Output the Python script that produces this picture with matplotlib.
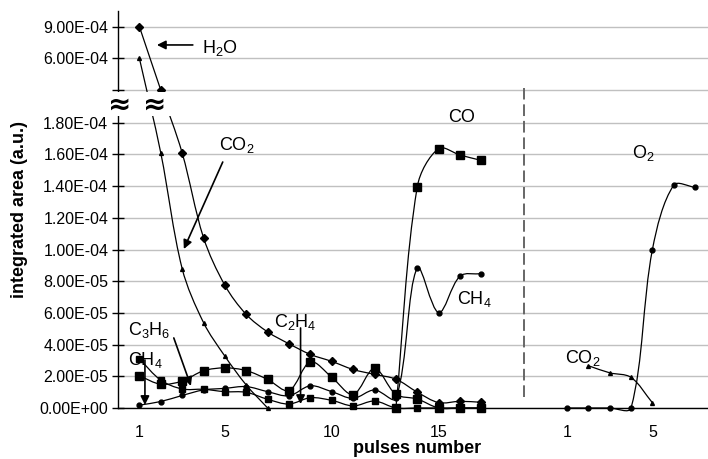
import numpy as np
import matplotlib
matplotlib.use('Agg')
import matplotlib.pyplot as plt
from matplotlib.path import Path
from matplotlib.patches import PathPatch, Rectangle

plt.rcParams['font.family'] = ['Liberation Sans', 'DejaVu Sans']
plt.rcParams['mathtext.fontset'] = 'custom'
plt.rcParams['mathtext.rm'] = 'Liberation Sans'
plt.rcParams['mathtext.it'] = 'Liberation Sans:italic'
plt.rcParams['mathtext.bf'] = 'Liberation Sans:bold'

# ---- data ----
pulses = [1, 2, 3, 4, 5, 6, 7, 8, 9, 10, 11, 12, 13, 14, 15, 16, 17]
h2o = [9.0e-4, 3.0e-4, 1.61e-4, 1.075e-4, 7.74e-5, 5.9e-5, 4.8e-5, 4.05e-5, 3.38e-5,
       2.94e-5, 2.43e-5, 2.12e-5, 1.82e-5, 1.0e-5, 3.4e-6, 4.2e-6, 3.6e-6]
co2_pulses = [1, 2, 3, 4, 5, 6, 7]
co2 = [6.0e-4, 1.61e-4, 8.8e-5, 5.39e-5, 3.27e-5, 1.45e-5, 0.0]
c3h6 = [2.03e-5, 1.5e-5, 1.7e-5, 2.35e-5, 2.53e-5, 2.36e-5, 1.8e-5, 1.1e-5, 2.91e-5,
        1.94e-5, 8.5e-6, 2.5e-5, 8.6e-6, 5.7e-6, 0.0, 0.0, 0.0]
c2h4 = [3.1e-5, 1.76e-5, 1.2e-5, 1.18e-5, 1.03e-5, 9.9e-6, 5.5e-6, 2.5e-6, 6.5e-6,
        4.8e-6, 1.3e-6, 4.4e-6, 0.0, 0.0, 0.0, 0.0, 0.0]
ch4 = [1.8e-6, 4.1e-6, 7.9e-6, 1.14e-5, 1.24e-5, 1.35e-5, 1.03e-5, 7.7e-6, 1.4e-5,
       1.03e-5, 6.1e-6, 1.14e-5, 6.0e-6, 8.85e-5, 6.02e-5, 8.32e-5, 8.47e-5]
co_pulses = [13, 14, 15, 16, 17]
co = [0.0, 1.396e-4, 1.637e-4, 1.596e-4, 1.562e-4]

# second experiment (right of the dashed line)
o2_pulses = [1, 2, 3, 4, 5, 6, 7]
o2 = [0.0, 0.0, 0.0, 0.0, 1.0e-4, 1.406e-4, 1.392e-4]
co2b_pulses = [2, 3, 4, 5]
co2b = [2.67e-5, 2.22e-5, 1.93e-5, 3.3e-6]

xtick_left = [1, 5, 10, 15]
xtick_right = [1, 5]
ytick_vals = [0, 2e-5, 4e-5, 6e-5, 8e-5, 1e-4, 1.2e-4, 1.4e-4, 1.6e-4, 1.8e-4, 3e-4, 6e-4, 9e-4]

OFFSET = 20      # right block starts after the gap
SEPARATOR = 19
XMAX = 27.6
PX_PER_X = 590 / XMAX

# ---- broken y axis as a piecewise linear scale ----
VB = [0.0, 1.8e-4, 3.0e-4, 1.05e-3]
PB = [0.0, 285.3, 318.0, 397.3]


def _pw(v, xs, ys):
    v = np.asarray(v, dtype=float)
    out = np.interp(v, xs, ys)
    out = np.where(v < xs[0], ys[0] + (v - xs[0]) * (ys[1] - ys[0]) / (xs[1] - xs[0]), out)
    out = np.where(v > xs[-1], ys[-1] + (v - xs[-1]) * (ys[-1] - ys[-2]) / (xs[-1] - xs[-2]), out)
    return out


def fwd(v):
    return _pw(v, VB, PB)


def inv(p):
    return _pw(p, PB, VB)


def smooth_path(xs, ys):
    # excel-like smoothed line: bezier with tangents weighted by segment length,
    # worked out in pixel-like space so the dips stay small
    P = np.column_stack([np.asarray(xs, float) * PX_PER_X, fwd(ys)])
    n = len(P)
    before = P.copy()
    after = P.copy()
    for i in range(n):
        a = P[max(i - 1, 0)]
        b = P[min(i + 1, n - 1)]
        d0 = np.hypot(*(P[i] - a))
        d1 = np.hypot(*(b - P[i]))
        if d0 + d1 == 0:
            continue
        T = b - a
        before[i] = P[i] - T * d0 / (d0 + d1) / 3.0
        after[i] = P[i] + T * d1 / (d0 + d1) / 3.0
    verts = [P[0]]
    codes = [Path.MOVETO]
    for i in range(n - 1):
        verts += [after[i], before[i + 1], P[i + 1]]
        codes += [Path.CURVE4] * 3
    verts = np.array(verts)
    verts[:, 0] = verts[:, 0] / PX_PER_X
    verts[:, 1] = inv(verts[:, 1])
    return Path(verts, codes)


fig = plt.figure(figsize=(7.08, 4.59), dpi=100)
ax = fig.add_axes([118 / 708, 51 / 459, 590 / 708, 397.3 / 459])
ax.set_yscale('function', functions=(fwd, inv))


def draw_series(x, y, marker, ms):
    ax.add_patch(PathPatch(smooth_path(x, y), facecolor='none', edgecolor='black',
                           lw=0.9, zorder=3, clip_on=False))
    ax.plot(x, y, ls='none', marker=marker, ms=ms, color='black', zorder=4, clip_on=False)


draw_series(pulses, h2o, 'D', 3.8)
draw_series(co2_pulses, co2, '^', 2.8)
draw_series(pulses, c3h6, 's', 6.2)
draw_series(pulses, c2h4, 's', 4.0)
draw_series(pulses, ch4, 'o', 3.5)
draw_series(co_pulses, co, 's', 6.2)
draw_series([p + OFFSET for p in o2_pulses], o2, 'o', 3.5)
draw_series([p + OFFSET for p in co2b_pulses], co2b, '^', 2.8)

ax.set_xlim(0, XMAX)
ax.set_ylim(0, 1.05e-3)

ax.set_yticks(ytick_vals)
ax.set_yticklabels(['' if v == 3e-4 else f'{v:.2E}' for v in ytick_vals])
ax.set_xticks(xtick_left + [p + OFFSET for p in xtick_right])
ax.set_xticklabels([str(p) for p in xtick_left + xtick_right])

ax.tick_params(axis='y', direction='inout', length=8, width=1, labelsize=11.5, pad=3)
ax.tick_params(axis='x', length=0, labelsize=11.5, pad=12)
ax.grid(axis='y', color='#c0c0c0', lw=1.0)
ax.set_axisbelow(True)
for s in ['top', 'right']:
    ax.spines[s].set_visible(False)
for s in ['left', 'bottom']:
    ax.spines[s].set_linewidth(1.0)

ax.axvline(SEPARATOR, ymin=0.028, ymax=0.805, color='#666666', lw=1.4, dashes=(6, 2.5))

ax.set_ylabel('integrated area (a.u.)', fontsize=13, fontweight='bold')
ax.yaxis.set_label_coords(-0.153, 0.5)
ax.set_xlabel('pulses number', fontsize=13, fontweight='bold', va='center')
ax.xaxis.set_label_coords(0.507, -0.1007)

# axis break
ax.add_patch(Rectangle((-0.022, 0.735), 0.115, 0.06, transform=ax.transAxes,
                       facecolor='white', edgecolor='none', clip_on=False, zorder=6))
for xf in [0.0033, 0.0627]:
    ax.text(xf, 0.763, '≈', transform=ax.transAxes, fontsize=20, fontweight='bold',
            family='DejaVu Sans', ha='center', va='center', zorder=7, clip_on=False)

# labels and arrows
lab = dict(fontsize=13, va='baseline', ha='left', zorder=8)
ax.text(3.92, 6.50e-4, 'H$_2$O', **lab)
ax.text(4.72, 1.628e-4, 'CO$_2$', **lab)
ax.text(15.42, 1.836e-4, 'CO', **lab)
ax.text(15.88, 6.56e-5, 'CH$_4$', **lab)
ax.text(7.29, 5.13e-5, 'C$_2$H$_4$', **lab)
ax.text(0.48, 4.6e-5, 'C$_3$H$_6$', **lab)
ax.text(0.48, 2.71e-5, 'CH$_4$', **lab)
ax.text(24.06, 1.577e-4, 'O$_2$', **lab)
ax.text(20.89, 2.84e-5, 'CO$_2$', **lab)

arr = dict(arrowstyle='-|>', color='black', lw=1.2, mutation_scale=13, shrinkA=0, shrinkB=0)
ax.annotate('', xy=(1.82, 7.26e-4), xytext=(3.50, 7.26e-4), arrowprops=arr, zorder=8)
ax.annotate('', xy=(3.08, 1.003e-4), xytext=(4.90, 1.552e-4), arrowprops=arr, zorder=8)
ax.annotate('', xy=(3.41, 1.39e-5), xytext=(2.61, 4.42e-5), arrowprops=arr, zorder=8)
ax.annotate('', xy=(1.26, 1.9e-6), xytext=(1.26, 3.03e-5), arrowprops=arr, zorder=8)
ax.annotate('', xy=(8.54, 2.5e-6), xytext=(8.54, 5.05e-5), arrowprops=arr, zorder=8)

fig.savefig('out.png', dpi=100)
